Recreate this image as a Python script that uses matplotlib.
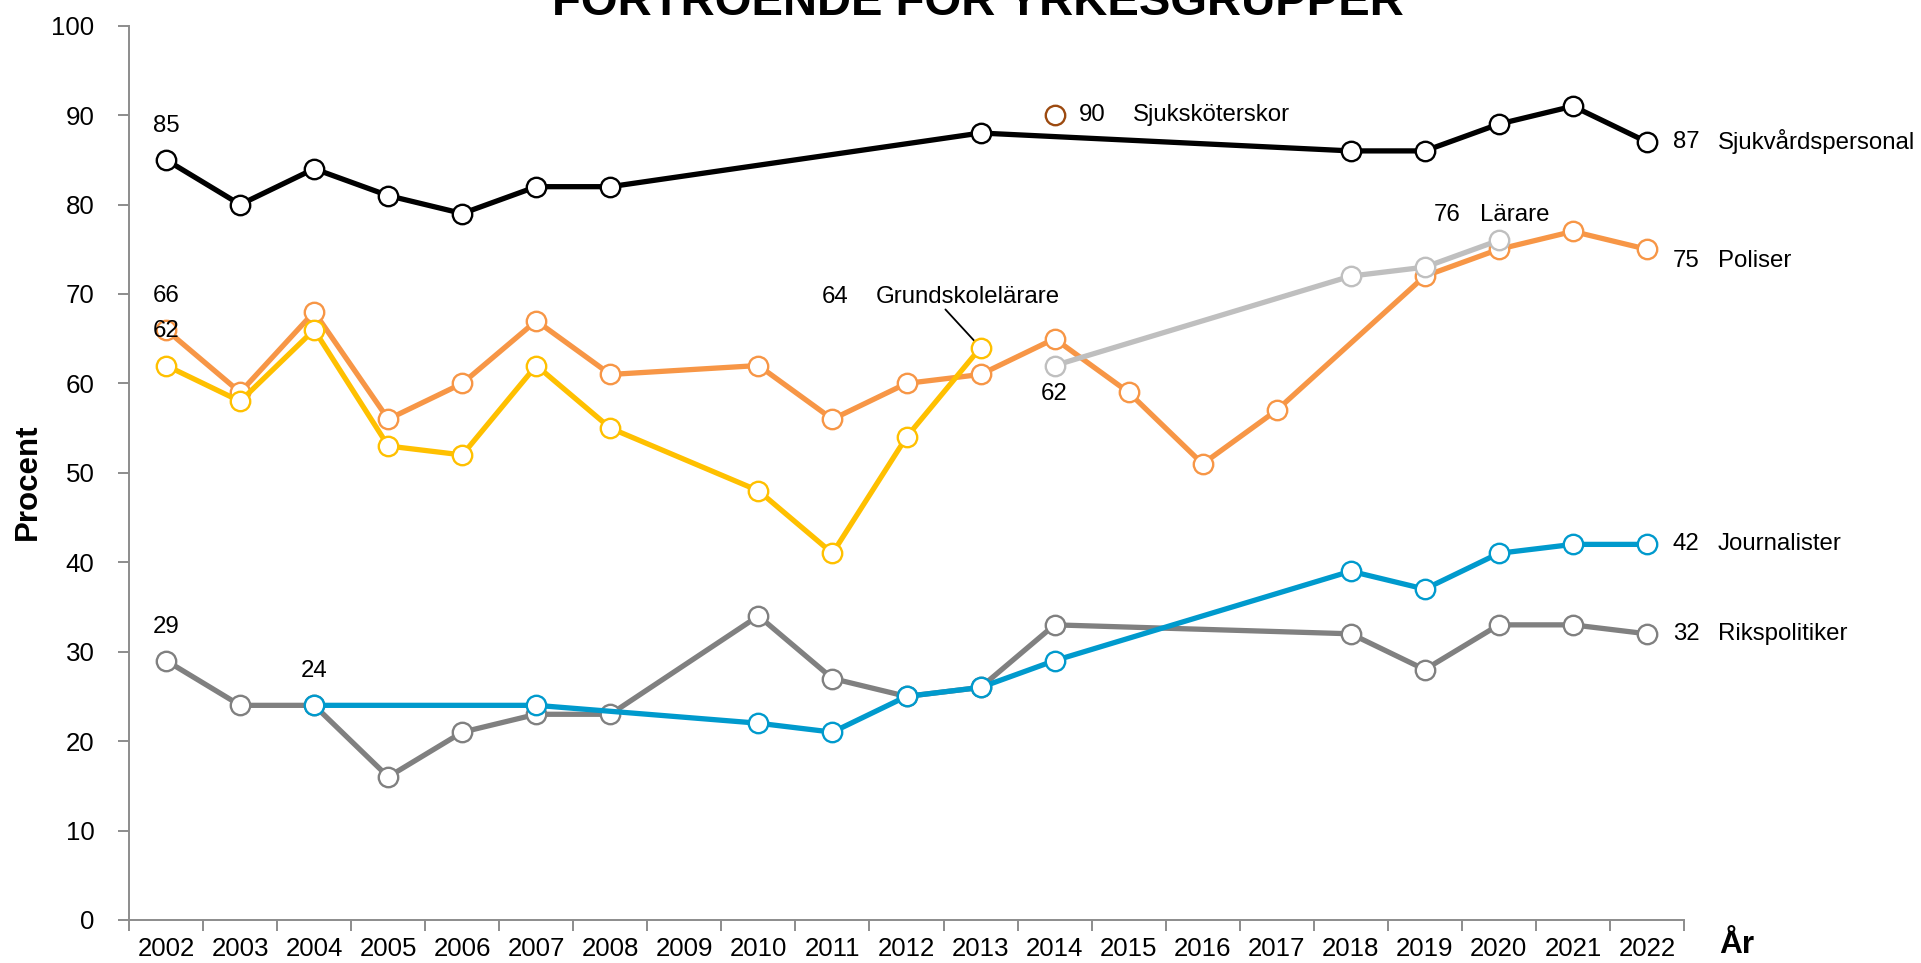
import numpy as np
import matplotlib.pyplot as plt

plt.rcParams['font.family'] = ['Liberation Sans', 'DejaVu Sans']

# Data (percent), each series has its own survey years
years_sjukvard = [2002, 2003, 2004, 2005, 2006, 2007, 2008, 2013, 2018, 2019, 2020, 2021, 2022]
sjukvard = [85, 80, 84, 81, 79, 82, 82, 88, 86, 86, 89, 91, 87]

years_skoterskor = [2014]
skoterskor = [90]

years_poliser = [2002, 2003, 2004, 2005, 2006, 2007, 2008, 2010, 2011, 2012, 2013, 2014,
                 2015, 2016, 2017, 2019, 2020, 2021, 2022]
poliser = [66, 59, 68, 56, 60, 67, 61, 62, 56, 60, 61, 65, 59, 51, 57, 72, 75, 77, 75]

years_grund = [2002, 2003, 2004, 2005, 2006, 2007, 2008, 2010, 2011, 2012, 2013]
grund = [62, 58, 66, 53, 52, 62, 55, 48, 41, 54, 64]

years_larare = [2014, 2018, 2019, 2020]
larare = [62, 72, 73, 76]

years_journ = [2004, 2007, 2010, 2011, 2012, 2013, 2014, 2018, 2019, 2020, 2021, 2022]
journ = [24, 24, 22, 21, 25, 26, 29, 39, 37, 41, 42, 42]

years_riks = [2002, 2003, 2004, 2005, 2006, 2007, 2008, 2010, 2011, 2012, 2013, 2014,
              2018, 2019, 2020, 2021, 2022]
riks = [29, 24, 24, 16, 21, 23, 23, 34, 27, 25, 26, 33, 32, 28, 33, 33, 32]

year_labels = [str(y) for y in range(2002, 2023)]

fig = plt.figure(figsize=(19.21, 9.63), dpi=100)
ax = fig.add_axes([0.0672, 0.0447, 0.8094, 0.9286])

def serie(x, y, c, z):
    ax.plot(x, y, '-o', color=c, lw=3.8, ms=14, mfc='white', mec=c, mew=1.7,
            zorder=z, clip_on=False)

serie(years_riks, riks, '#808080', 2)
serie(years_journ, journ, '#009ACD', 3)
serie(years_poliser, poliser, '#F79646', 4)
serie(years_grund, grund, '#FFC000', 5)
serie(years_larare, larare, '#BFBFBF', 6)
serie(years_sjukvard, sjukvard, '#000000', 7)
ax.plot(years_skoterskor, skoterskor, 'o', ms=14, mfc='white', mec='#9C4A10', mew=1.7,
        zorder=8)

fs = 17.3
# value labels above first points
for x, y in [(2002, sjukvard[0]), (2002, poliser[0]), (2002, grund[0]),
             (2002, riks[0]), (2004, journ[0])]:
    ax.annotate(str(y), (x, y), xytext=(0, 24.5), textcoords='offset points',
                ha='center', va='center', fontsize=fs, zorder=10)
ax.text(2014, 58.8, str(larare[0]), ha='center', va='center', fontsize=fs)

# end labels
ends = [(sjukvard[-1], sjukvard[-1], 'Sjukvårdspersonal'),
        (poliser[-1], 73.7, 'Poliser'),
        (journ[-1], journ[-1], 'Journalister'),
        (riks[-1], riks[-1], 'Rikspolitiker')]
for v, ypos, name in ends:
    ax.text(2022.53, ypos, str(v), ha='center', va='center', fontsize=fs)
    ax.text(2022.96, ypos, name, ha='left', va='center', fontsize=fs)

ax.text(2014.51, 90, str(skoterskor[0]), ha='center', va='center', fontsize=fs)
ax.text(2015.06, 90, 'Sjuksköterskor', ha='left', va='center', fontsize=fs)
ax.text(2019.3, 78.8, str(larare[-1]), ha='center', va='center', fontsize=fs)
ax.text(2019.75, 78.8, 'Lärare', ha='left', va='center', fontsize=fs)
ax.text(2011.03, 69.7, str(grund[-1]), ha='center', va='center', fontsize=fs)
ax.text(2011.59, 69.7, 'Grundskolelärare', ha='left', va='center', fontsize=fs)
ax.annotate('', xy=(2013, grund[-1]), xytext=(2012.5, 68.5),
            arrowprops=dict(arrowstyle='-', color='black', lw=1.3))

# axes
ax.set_xlim(2001.5, 2022.5)
ax.set_ylim(0, 100)
ax.set_yticks(np.arange(0, 101, 10))
ax.set_xticks(np.arange(2001.5, 2023, 1))
ax.set_xticklabels([])
ax.set_xticks(np.arange(2002, 2023), minor=True)
ax.set_xticklabels(year_labels, minor=True)
ax.tick_params(axis='x', which='major', length=8, width=1.4, color='#8C8C8C', direction='out')
ax.tick_params(axis='x', which='minor', length=0, pad=12, labelsize=18.6)
ax.tick_params(axis='y', length=8, width=1.4, color='#8C8C8C', direction='out',
               pad=17, labelsize=18.6)
for s in ['top', 'right']:
    ax.spines[s].set_visible(False)
for s in ['left', 'bottom']:
    ax.spines[s].set_color('#8C8C8C')
    ax.spines[s].set_linewidth(1.4)

fig.text(0.0145, 0.5, 'Procent', rotation=90, ha='center', va='center',
         fontsize=22.5, fontweight='bold')
fig.text(0.904, 0.003, 'År', ha='center', va='bottom', fontsize=22.7, fontweight='bold')
# title is partly outside the top edge, as in the original
fig.text(0.5089, 1 - 15 / 963, 'FÖRTROENDE FÖR YRKESGRUPPER', ha='center',
         va='baseline', fontsize=34, fontweight='bold')

plt.savefig('out.png', dpi=100)
